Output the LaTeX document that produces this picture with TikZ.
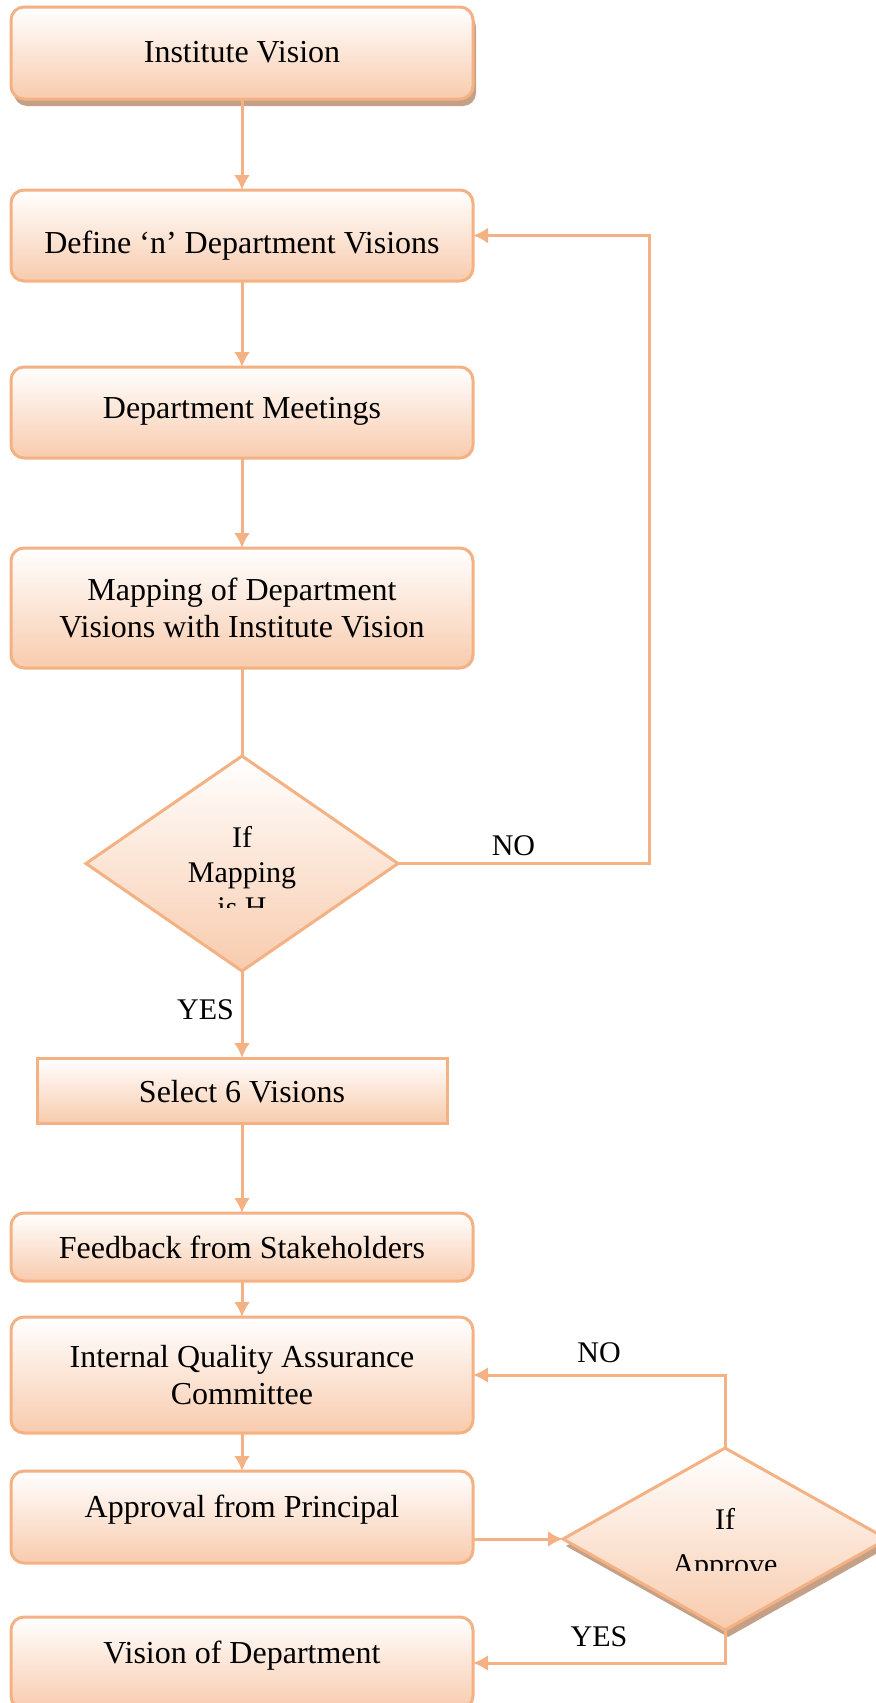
\documentclass[tikz,border=0pt]{standalone}
\usepackage{fontspec}
\setmainfont{Liberation Serif}
\usetikzlibrary{positioning,shapes.geometric,shadows,arrows.meta}
\definecolor{peachline}{RGB}{244,177,131}
\definecolor{peachfill}{RGB}{248,203,173}
\definecolor{shadowbrown}{RGB}{196,160,135}

\begin{document}
\begin{tikzpicture}[x=0.5pt,y=-0.5pt,>={Latex[length=7.5pt,width=8pt]},
  box/.style={draw=peachline,line width=1.5pt,rounded corners=6.5pt,top color=white,bottom color=peachfill,outer sep=0pt,
    minimum width=231pt,minimum height=45.5pt,align=center,inner sep=2pt,font=\fontsize{16pt}{18.5pt}\selectfont},
  sink/.style={text height=#1,text depth=3.5pt},
  decision/.style={diamond,draw=peachline,line width=1.5pt,top color=white,bottom color=peachfill,inner sep=0pt,outer sep=0pt},
  flow/.style={draw=peachline,line width=1.5pt},
  tag/.style={font=\fontsize{15pt}{17.5pt}\selectfont},
  softshadow/.style={drop shadow={shadow xshift=1.5pt,shadow yshift=-3.5pt,fill=shadowbrown,opacity=1}}]
\useasboundingbox (0,0) rectangle (875,1703);
\node[box,softshadow,sink=12.5pt,minimum height=46pt] (vision) at (242,53) {Institute Vision};
\node[box,sink=21.5pt] (define) [below=45.5pt of vision] {Define ‘n’ Department Visions};
\node[box,sink=9.5pt] (meetings) [below=43pt of define] {Department Meetings};
\node[box,minimum height=60pt] (mapping) [below=45pt of meetings] {Mapping of Department\\Visions with Institute Vision};
\node[decision,minimum width=156pt,minimum height=107.5pt] (ifmap) [below=44pt of mapping] {};
\node[box,sharp corners,sink=15pt,minimum width=205pt,minimum height=32.5pt] (select) [below=43.5pt of ifmap] {Select 6 Visions};
\node[box,minimum height=34pt] (feedback) [below=45pt of select] {Feedback from Stakeholders};
\node[box,minimum height=58pt] (iqac) [below=18pt of feedback] {Internal Quality Assurance\\Committee};
\node[box,sink=3.5pt,minimum height=46pt] (approval) [below=19pt of iqac] {Approval from Principal};
\node[box,sink=3.5pt,minimum height=46pt] (deptvision) [below=27pt of approval] {Vision of Department};
\node[decision,softshadow,minimum width=162pt,minimum height=91pt] (ifapprove) [right=45pt of approval,yshift=-11pt] {};
% texts cut off inside the diamonds
\begin{scope}
\clip (ifmap.west |- ifmap.north) rectangle ([yshift=-22pt]ifmap.east);
\node[tag,align=center] (ifmaptext) at ([yshift=-4.5pt]ifmap.center) {If\\Mapping\\is H};
\end{scope}
\begin{scope}
\clip (ifapprove.west |- ifapprove.north) rectangle ([yshift=-15.5pt]ifapprove.east);
\node[tag,align=center,font=\fontsize{15pt}{22.5pt}\selectfont] (ifapptext) at ([yshift=-3pt]ifapprove.center) {If\\Approve};
\end{scope}
% connectors
\draw[flow,->] (vision) -- (define);
\draw[flow,->] (define) -- (meetings);
\draw[flow,->] (meetings) -- (mapping);
\draw[flow] (mapping) -- (ifmap);
\draw[flow,->] (ifmap) -- node[tag,left,pos=0.45] {YES} (select);
\draw[flow,->] (ifmap.east) -- node[tag,above,pos=0.46] {NO} ++(125.5pt,0) |- (define.east);
\draw[flow,->] (select) -- (feedback);
\draw[flow,->] (feedback) -- (iqac);
\draw[flow,->] (iqac) -- (approval);
\draw[flow,->] (approval.east |- ifapprove.west) -- (ifapprove.west);
\draw[flow,->] (ifapprove.north) |- node[tag,above=2pt,pos=0.75] {NO} (iqac.east);
\draw[flow,->] (ifapprove.south) |- node[tag,above=4pt,pos=0.75] {YES} (deptvision.east);
\end{tikzpicture}
\end{document}
